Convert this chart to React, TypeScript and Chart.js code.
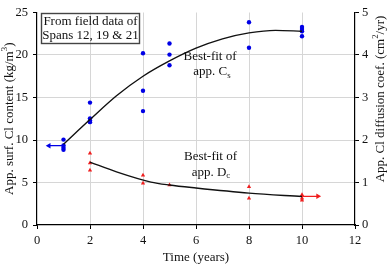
import React, { useEffect, useRef } from "react";
import { Chart, registerables } from "chart.js";

Chart.register(...registerables);

// Time axis
const timeTicks = [0, 2, 4, 6, 8, 10, 12];

// Apparent surface chloride content (kg/m3), left axis
const csTimes = [1, 1, 1, 1, 2, 2, 2, 2, 4, 4, 4, 5, 5, 5, 8, 8, 10, 10, 10, 10];
const csValues = [10.05, 9.35, 9.1, 8.85, 14.4, 12.55, 12.3, 12.1, 20.2, 15.8, 13.4, 21.35, 20.05, 18.8, 23.85, 20.85, 23.3, 23.05, 22.8, 22.2];

// Apparent chloride diffusion coefficient (cm2/yr), right axis
const dcTimes = [2, 2, 2, 4, 4, 5, 8, 8, 10, 10, 10];
const dcValues = [1.69, 1.46, 1.29, 1.17, 0.98, 0.94, 0.9, 0.63, 0.71, 0.63, 0.58];

// Best-fit curves
const csFitTimes = [1, 2, 3, 4, 5, 6, 7, 8, 9, 10];
const csFitValues = [9.5, 12.4, 15.2, 17.5, 19.3, 20.8, 21.9, 22.6, 22.9, 22.8];
const dcFitTimes = [2, 3, 4.3, 5, 6, 8, 10];
const dcFitValues = [1.48, 1.25, 1.01, 0.94, 0.87, 0.75, 0.67];

// Arrows pointing at the axis each series belongs to
const csArrowTimes = [1, 0.45];
const csArrowValues = [9.33, 9.33];
const dcArrowTimes = [10, 10.6];
const dcArrowValues = [0.675, 0.675];

const BLUE = "rgb(0,0,230)";
const RED = "rgb(240,30,30)";
const SERIF = "'Liberation Serif', 'DejaVu Serif', serif";

const pts = (xs: number[], ys: number[]) => xs.map((x, i) => ({ x, y: ys[i] }));

type Seg = { t: string; sup?: boolean; sub?: boolean };

function drawRich(ctx: CanvasRenderingContext2D, segs: Seg[], cx: number, cy: number, size: number, rot = 0) {
  ctx.save();
  ctx.translate(cx, cy);
  ctx.rotate(rot);
  ctx.textBaseline = "middle";
  ctx.textAlign = "left";
  const small = size * 0.68;
  const widths = segs.map((s) => {
    ctx.font = `${s.sup || s.sub ? small : size}px ${SERIF}`;
    return ctx.measureText(s.t).width;
  });
  const total = widths.reduce((a, b) => a + b, 0);
  let x = -total / 2;
  segs.forEach((s, i) => {
    ctx.font = `${s.sup || s.sub ? small : size}px ${SERIF}`;
    const dy = s.sup ? -size * 0.38 : s.sub ? size * 0.28 : 0;
    ctx.fillText(s.t, x, dy);
    x += widths[i];
  });
  ctx.restore();
}

const textPlugin = {
  id: "chartText",
  afterDraw(chart: any) {
    const ctx: CanvasRenderingContext2D = chart.ctx;
    const { left, right, top, bottom } = chart.chartArea;
    ctx.save();
    ctx.fillStyle = "#111";

    // axis titles
    drawRich(ctx, [{ t: "App. surf. Cl content (kg/m" }, { t: "3", sup: true }, { t: ")" }], 10, (top + bottom) / 2, 13, -Math.PI / 2);
    drawRich(ctx, [{ t: "App. Cl diffusion coef. (cm" }, { t: "2", sup: true }, { t: "/yr)" }], 381, 99, 13, -Math.PI / 2);
    drawRich(ctx, [{ t: "Time (years)" }], (left + right) / 2, 258, 13);

    // field data box
    ctx.strokeStyle = "#444";
    ctx.lineWidth = 1.4;
    ctx.strokeRect(41.5, 13.5, 98, 30);
    drawRich(ctx, [{ t: "From field data of" }], 90.5, 21.5, 13);
    drawRich(ctx, [{ t: "Spans 12, 19 & 21" }], 90.5, 35.5, 13);

    // fit labels
    drawRich(ctx, [{ t: "Best-fit of" }], 210, 57, 13);
    drawRich(ctx, [{ t: "app. C" }, { t: "s", sub: true }], 212, 72, 13);
    drawRich(ctx, [{ t: "Best-fit of" }], 210.5, 157, 13);
    drawRich(ctx, [{ t: "app. D" }, { t: "c", sub: true }], 211, 172.5, 13);
    ctx.restore();
  },
};

export default function App() {
  const ref = useRef<HTMLCanvasElement | null>(null);

  useEffect(() => {
    if (!ref.current) return;
    const tickFont = { family: SERIF, size: 12.5 };
    const chart = new Chart(ref.current, {
      type: "scatter",
      data: {
        datasets: [
          {
            label: "Cs fit",
            type: "line",
            data: pts(csFitTimes, csFitValues),
            yAxisID: "y",
            borderColor: "#111",
            borderWidth: 1.4,
            pointRadius: 0,
            cubicInterpolationMode: "monotone",
            fill: false,
          },
          {
            label: "Dc fit",
            type: "line",
            data: pts(dcFitTimes, dcFitValues),
            yAxisID: "y1",
            borderColor: "#111",
            borderWidth: 1.4,
            pointRadius: 0,
            cubicInterpolationMode: "monotone",
            fill: false,
          },
          {
            label: "Cs arrow",
            type: "line",
            data: pts(csArrowTimes, csArrowValues),
            yAxisID: "y",
            borderColor: BLUE,
            backgroundColor: BLUE,
            borderWidth: 1.2,
            pointRadius: [0, 3.2],
            pointStyle: "triangle",
            rotation: -90,
            pointBorderWidth: 0,
            fill: false,
          },
          {
            label: "Dc arrow",
            type: "line",
            data: pts(dcArrowTimes, dcArrowValues),
            yAxisID: "y1",
            borderColor: RED,
            backgroundColor: RED,
            borderWidth: 1.2,
            pointRadius: [0, 3.2],
            pointStyle: "triangle",
            rotation: 90,
            pointBorderWidth: 0,
            fill: false,
          },
          {
            label: "App. Cs",
            data: pts(csTimes, csValues),
            yAxisID: "y",
            backgroundColor: BLUE,
            borderColor: BLUE,
            borderWidth: 0,
            pointRadius: 2.2,
            pointStyle: "circle",
          },
          {
            label: "App. Dc",
            data: pts(dcTimes, dcValues),
            yAxisID: "y1",
            backgroundColor: RED,
            borderColor: RED,
            borderWidth: 0,
            pointRadius: 2.5,
            pointStyle: "triangle",
          },
        ],
      },
      options: {
        animation: false,
        responsive: false,
        layout: { padding: { top: 8, left: 0, right: 0, bottom: 0 } },
        plugins: { legend: { display: false }, tooltip: { enabled: false } },
        scales: {
          x: {
            type: "linear",
            min: 0,
            max: 12,
            afterBuildTicks: (s: any) => {
              s.ticks = timeTicks.map((v) => ({ value: v }));
            },
            afterFit: (s: any) => {
              s.height = 40;
            },
            ticks: { font: tickFont, color: "#111", padding: 4, maxRotation: 0 },
            grid: {
              color: (c: any) => (c.tick && (c.tick.value === 0 || c.tick.value === 12) ? "rgba(0,0,0,0)" : "#d6d6d6"),
              lineWidth: 1,
              tickColor: "#000",
              tickLength: 4,
            },
            border: { color: "#000", width: 1.2 },
          },
          y: {
            type: "linear",
            position: "left",
            min: 0,
            max: 25,
            ticks: { stepSize: 5, font: tickFont, color: "#111", padding: 5 },
            afterFit: (s: any) => {
              s.width = 37;
            },
            grid: {
              color: (c: any) => (c.tick && (c.tick.value === 0 || c.tick.value === 25) ? "rgba(0,0,0,0)" : "#d6d6d6"),
              lineWidth: 1,
              tickColor: "#000",
              tickLength: 4,
            },
            border: { color: "#000", width: 1.2 },
          },
          y1: {
            type: "linear",
            position: "right",
            min: 0,
            max: 5,
            ticks: { stepSize: 1, font: tickFont, color: "#111", padding: 3 },
            afterFit: (s: any) => {
              s.width = 33;
            },
            grid: { drawOnChartArea: false, tickColor: "#000", tickLength: 4 },
            border: { color: "#000", width: 1.2 },
          },
        },
      },
      plugins: [textPlugin],
    } as any);
    return () => chart.destroy();
  }, []);

  return (
    <div style={{ position: "absolute", left: 0, top: 0, width: 388, height: 265, background: "#fff" }}>
      <canvas ref={ref} width={388} height={265} style={{ display: "block", width: 388, height: 265 }} />
    </div>
  );
}
